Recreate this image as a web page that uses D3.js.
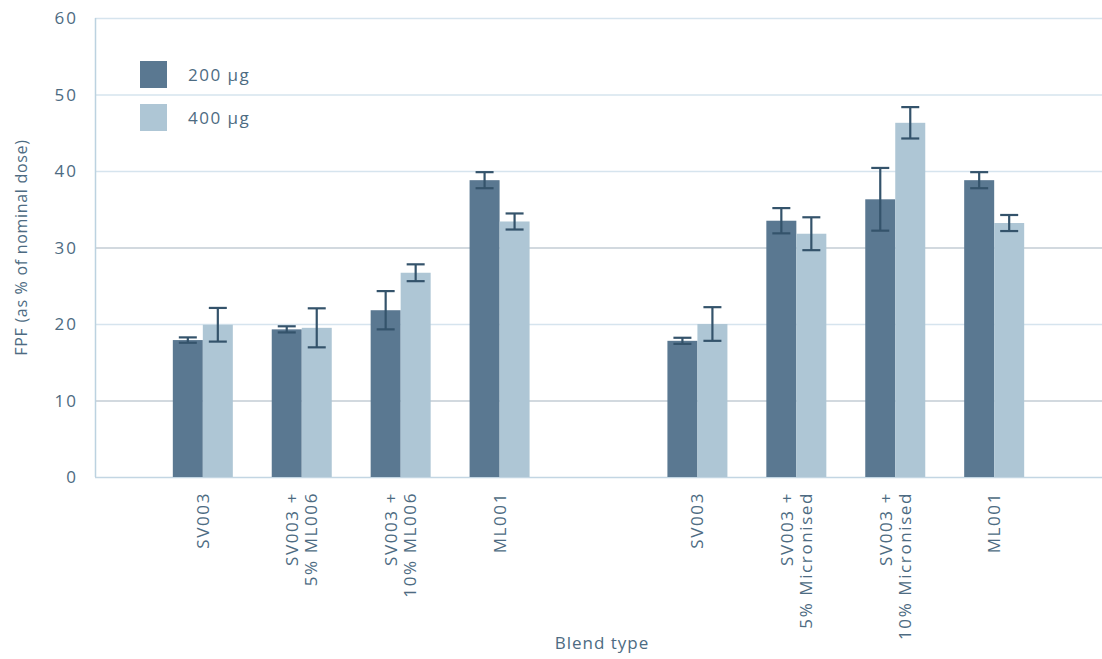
<!DOCTYPE html>
<html>
<head>
<meta charset="utf-8">
<script src="https://cdn.jsdelivr.net/npm/d3@7"></script>
<style>
  body { margin: 0; background: #fff; }
  svg { display: block; font-family: "Open Sans", "Noto Sans", sans-serif; }
</style>
</head>
<body>
<svg></svg>
<script>
// ─── DATA ─────────────────────────────────────────────────────────────────────

const categories = [
  ["SV003"],
  ["SV003 +", "5% ML006"],
  ["SV003 +", "10% ML006"],
  ["ML001"],
  null, // spacer between the two blend sets
  ["SV003"],
  ["SV003 +", "5% Micronised"],
  ["SV003 +", "10% Micronised"],
  ["ML001"],
];

const seriesNames = ["200 μg", "400 μg"];
const values200 = [17.9, 19.3, 21.8, 38.8, null, 17.8, 33.5, 36.3, 38.8];
const errors200 = [0.35, 0.4, 2.5, 1.05, null, 0.4, 1.65, 4.1, 1.05];
const values400 = [19.9, 19.5, 26.7, 33.4, null, 20.0, 31.8, 46.3, 33.2];
const errors400 = [2.2, 2.55, 1.1, 1.05, null, 2.2, 2.15, 2.05, 1.05];

const yTicks = [0, 10, 20, 30, 40, 50, 60];

// ─── DIMENSIONS & SCALES ──────────────────────────────────────────────────────

const width = 1102,
  height = 659,
  margin = { top: 18, right: 0, bottom: 182, left: 95 };

const colors = ["#5a7891", "#aec6d5"];
const errColor = "#34536b";
const textColor = "#4d6b82";

const svg = d3.select("svg").attr("width", width).attr("height", height);

const x = d3
  .scalePoint()
  .domain(d3.range(categories.length))
  .range([margin.left, width - margin.right])
  .padding(1.09);

const xs = d3.scaleBand().domain([0, 1]).range([-30, 30]).padding(0);

const y = d3
  .scaleLinear()
  .domain([0, 60])
  .range([height - margin.bottom, margin.top]);

// ─── GRID & FRAME ─────────────────────────────────────────────────────────────

svg
  .append("g")
  .selectAll("line")
  .data(yTicks.filter((d) => d > 0))
  .join("line")
  .attr("x1", margin.left)
  .attr("x2", width)
  .attr("y1", (d) => y(d) + 0.5)
  .attr("y2", (d) => y(d) + 0.5)
  .attr("stroke", (d) => (d === 10 || d === 30 ? "#c3ccd4" : "#d6e4ee"))
  .attr("stroke-width", (d) => (d === 60 ? 1.5 : 1.3));

svg
  .append("line")
  .attr("x1", margin.left)
  .attr("x2", width)
  .attr("y1", y(0) + 0.5)
  .attr("y2", y(0) + 0.5)
  .attr("stroke", "#c3d6e3")
  .attr("stroke-width", 1.5);

svg
  .append("line")
  .attr("x1", margin.left + 0.5)
  .attr("x2", margin.left + 0.5)
  .attr("y1", y(60))
  .attr("y2", y(0))
  .attr("stroke", "#bcd2e0")
  .attr("stroke-width", 1.5);

// ─── Y AXIS LABELS ────────────────────────────────────────────────────────────

svg
  .append("g")
  .selectAll("text")
  .data(yTicks)
  .join("text")
  .attr("x", 78)
  .attr("y", (d) => y(d))
  .attr("dy", "0.36em")
  .attr("text-anchor", "end")
  .attr("fill", textColor)
  .style("font-size", "17px")
  .style("letter-spacing", "2px")
  .text((d) => d);

svg
  .append("text")
  .attr("transform", `translate(27,${(y(0) + y(60)) / 2}) rotate(-90)`)
  .attr("text-anchor", "middle")
  .attr("fill", textColor)
  .style("font-size", "16px")
  .style("letter-spacing", "0.7px")
  .text("FPF (as % of nominal dose)");

// ─── BARS & ERROR BARS ────────────────────────────────────────────────────────

const rows = categories
  .map((c, i) => ({ i, c }))
  .filter((d) => d.c)
  .flatMap((d) => [
    { i: d.i, s: 0, v: values200[d.i], e: errors200[d.i] },
    { i: d.i, s: 1, v: values400[d.i], e: errors400[d.i] },
  ]);

svg
  .append("g")
  .selectAll("rect")
  .data(rows)
  .join("rect")
  .attr("x", (d) => x(d.i) + xs(d.s))
  .attr("width", xs.bandwidth())
  .attr("y", (d) => y(d.v))
  .attr("height", (d) => y(0) - y(d.v))
  .attr("fill", (d) => colors[d.s]);

const err = svg
  .append("g")
  .attr("stroke", errColor)
  .attr("stroke-width", 2.2)
  .selectAll("g")
  .data(rows)
  .join("g")
  .attr("transform", (d) => `translate(${x(d.i) + xs(d.s) + xs.bandwidth() / 2},0)`);

err
  .append("line")
  .attr("y1", (d) => y(d.v + d.e))
  .attr("y2", (d) => y(d.v - d.e));

err
  .selectAll("line.cap")
  .data((d) => [d.v + d.e, d.v - d.e])
  .join("line")
  .attr("class", "cap")
  .attr("x1", -9)
  .attr("x2", 9)
  .attr("y1", (d) => y(d))
  .attr("y2", (d) => y(d));

// ─── X AXIS LABELS ────────────────────────────────────────────────────────────

const xl = svg
  .append("g")
  .selectAll("text")
  .data(categories.map((c, i) => ({ i, c })).filter((d) => d.c))
  .join("text")
  .attr("transform", (d) => `translate(${x(d.i)},492) rotate(-90)`)
  .attr("text-anchor", "end")
  .attr("fill", textColor)
  .style("font-size", "17px")
  .style("letter-spacing", "1.6px");

xl.selectAll("tspan")
  .data((d) => d.c.map((t, k) => ({ t, k, n: d.c.length })))
  .join("tspan")
  .attr("x", 0)
  .attr("dy", (d) => (d.k === 0 ? `${0.35 - (d.n - 1) * 0.57}em` : "1.14em"))
  .text((d) => d.t);

svg
  .append("text")
  .attr("x", 602)
  .attr("y", 649)
  .attr("text-anchor", "middle")
  .attr("fill", textColor)
  .style("font-size", "17px")
  .style("letter-spacing", "1px")
  .text("Blend type");

// ─── LEGEND ───────────────────────────────────────────────────────────────────

const legend = svg
  .append("g")
  .selectAll("g")
  .data(seriesNames)
  .join("g")
  .attr("transform", (d, i) => `translate(140,${61 + i * 43})`);

legend
  .append("rect")
  .attr("width", 27)
  .attr("height", 27)
  .attr("fill", (d, i) => colors[i]);

legend
  .append("text")
  .attr("x", 48)
  .attr("y", 14)
  .attr("dy", "0.36em")
  .attr("fill", textColor)
  .style("font-size", "17px")
  .style("letter-spacing", "1.5px")
  .text((d) => d);
</script>
</body>
</html>
